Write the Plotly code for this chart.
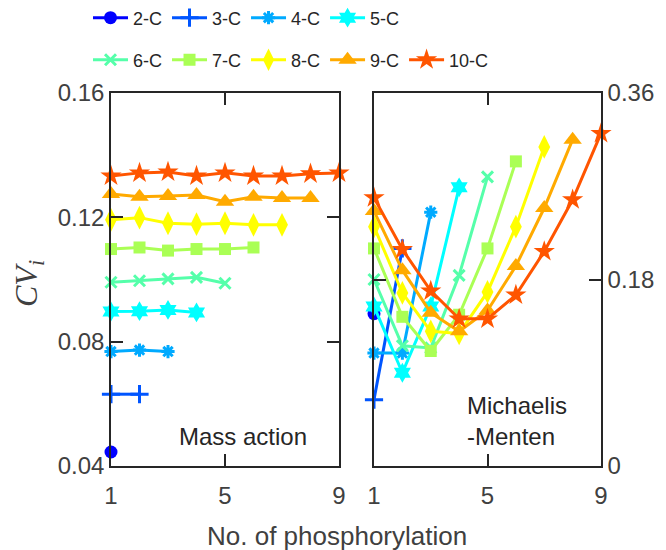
import plotly.graph_objects as go

W, H = 666, 550

series_names = ["2-C", "3-C", "4-C", "5-C", "6-C", "7-C", "8-C", "9-C", "10-C"]
colors = ["#0000ff", "#0055ff", "#00aaff", "#00ffff", "#55ffaa",
          "#aaff55", "#ffff00", "#ffaa00", "#ff5500"]
symbols = ["circle", "cross-thin-open", "asterisk-open", "hexagram", "x-thin-open",
           "square", "diamond-tall", "triangle-up", "star"]
sizes = [13, 13, 11, 15, 11, 12, 17, 16, 16]

# Mass action CV_i vs phosphorylation index
mass_action = [
    [0.0445],
    [0.0631, 0.0631],
    [0.0768, 0.0773, 0.0768],
    [0.0897, 0.0898, 0.0902, 0.0894],
    [0.0991, 0.0996, 0.1002, 0.1007, 0.0988],
    [0.1098, 0.1103, 0.1093, 0.1098, 0.1098, 0.1103],
    [0.1192, 0.1199, 0.1181, 0.1178, 0.1181, 0.1176, 0.1176],
    [0.1275, 0.1266, 0.1269, 0.1272, 0.1250, 0.1266, 0.1262, 0.1262],
    [0.1333, 0.1343, 0.1346, 0.1333, 0.1343, 0.1333, 0.1333, 0.1340, 0.1343],
]

# Michaelis-Menten CV_i vs phosphorylation index
michaelis = [
    [0.147],
    [0.064, 0.210],
    [0.109, 0.109, 0.245],
    [0.154, 0.090, 0.154, 0.269],
    [0.180, 0.116, 0.114, 0.184, 0.279],
    [0.210, 0.144, 0.111, 0.146, 0.210, 0.294],
    [0.231, 0.167, 0.130, 0.128, 0.168, 0.231, 0.308],
    [0.246, 0.189, 0.148, 0.130, 0.150, 0.193, 0.249, 0.315],
    [0.259, 0.209, 0.169, 0.142, 0.142, 0.165, 0.207, 0.257, 0.321],
]

left_yticks = [0.04, 0.08, 0.12, 0.16]
left_yticklabels = ["0.04", "0.08", "0.12", "0.16"]
right_yticks = [0, 0.18, 0.36]
right_yticklabels = ["0", "0.18", "0.36"]
xticks = [1, 5, 9]

TXT = "#262626"
FONT = "Liberation Sans"

fig = go.Figure()

for i, name in enumerate(series_names):
    open_sym = symbols[i].endswith("open")
    marker = dict(symbol=symbols[i], size=sizes[i], color=colors[i],
                  line=dict(color=colors[i], width=3 if open_sym else 0))
    leg = "legend" if i < 4 else "legend2"
    xs_l = list(range(1, len(mass_action[i]) + 1))
    fig.add_trace(go.Scatter(x=xs_l, y=mass_action[i], mode="lines+markers",
                             name=name, legendgroup=name, legend=leg,
                             line=dict(color=colors[i], width=3),
                             marker=marker, cliponaxis=False,
                             xaxis="x", yaxis="y"))
    xs_r = list(range(1, len(michaelis[i]) + 1))
    fig.add_trace(go.Scatter(x=xs_r, y=michaelis[i], mode="lines+markers",
                             name=name, legendgroup=name, showlegend=False,
                             line=dict(color=colors[i], width=3),
                             marker=marker, cliponaxis=False,
                             xaxis="x2", yaxis="y2"))

ydom = [1 - 466 / H, 1 - 93 / H]
axis_common = dict(showline=True, linecolor=TXT, linewidth=1.5, mirror="allticks",
                   ticks="inside", ticklen=12, tickwidth=1.5, tickcolor=TXT,
                   showgrid=False, zeroline=False,
                   tickfont=dict(family=FONT, size=24, color="#404040"))

legend_common = dict(orientation="h", xref="container", yref="container",
                     xanchor="left", yanchor="middle",
                     itemwidth=35,
                     font=dict(family=FONT, size=18, color=TXT),
                     bgcolor="rgba(0,0,0,0)", tracegroupgap=0)

fig.update_layout(
    width=W, height=H,
    margin=dict(l=0, r=0, t=0, b=0, autoexpand=False),
    paper_bgcolor="white", plot_bgcolor="white",
    font=dict(family=FONT, color=TXT),
    xaxis=dict(domain=[111 / W, 339 / W], range=[1, 9], tickvals=xticks,
               anchor="y", ticklabelstandoff=7, **axis_common),
    yaxis=dict(domain=ydom, range=[0.04, 0.16], tickvals=left_yticks,
               ticktext=left_yticklabels, anchor="x", **axis_common),
    xaxis2=dict(domain=[374 / W, 601 / W], range=[1, 9], tickvals=xticks,
                anchor="y2", ticklabelstandoff=7, **axis_common),
    yaxis2=dict(domain=ydom, range=[0, 0.36], tickvals=right_yticks,
                ticktext=right_yticklabels, anchor="x2", side="right",
                **axis_common),
    legend=dict(x=88 / W, y=1 - 18 / H, **legend_common),
    legend2=dict(x=88 / W, y=1 - 60 / H, **legend_common),
    showlegend=True,
)

fig.add_annotation(text="Mass action", xref="paper", yref="paper",
                   x=177 / W, y=1 - 436 / H, xanchor="left", yanchor="middle",
                   showarrow=False, font=dict(family=FONT, size=24, color=TXT))
fig.add_annotation(text="Michaelis<br>-Menten", xref="paper", yref="paper",
                   x=465 / W, y=1 - 421 / H, xanchor="left", yanchor="middle",
                   align="left", showarrow=False,
                   font=dict(family=FONT, size=24, color=TXT))
fig.add_annotation(text="No. of phosphorylation", xref="paper", yref="paper",
                   x=337 / W, y=1 - 536 / H, xanchor="center", yanchor="middle",
                   showarrow=False, font=dict(family=FONT, size=26, color="#404040"))
fig.add_annotation(text="<i>CV</i><sub><i>i</i></sub>", xref="paper", yref="paper",
                   x=28 / W, y=1 - 284 / H, xanchor="center", yanchor="middle",
                   textangle=-90, showarrow=False,
                   font=dict(family="Liberation Serif", size=32, color="#404040"))

fig.write_html("out.html", config={"displayModeBar": False},
               post_script="document.body.style.margin='0';document.body.style.overflow='hidden';")
